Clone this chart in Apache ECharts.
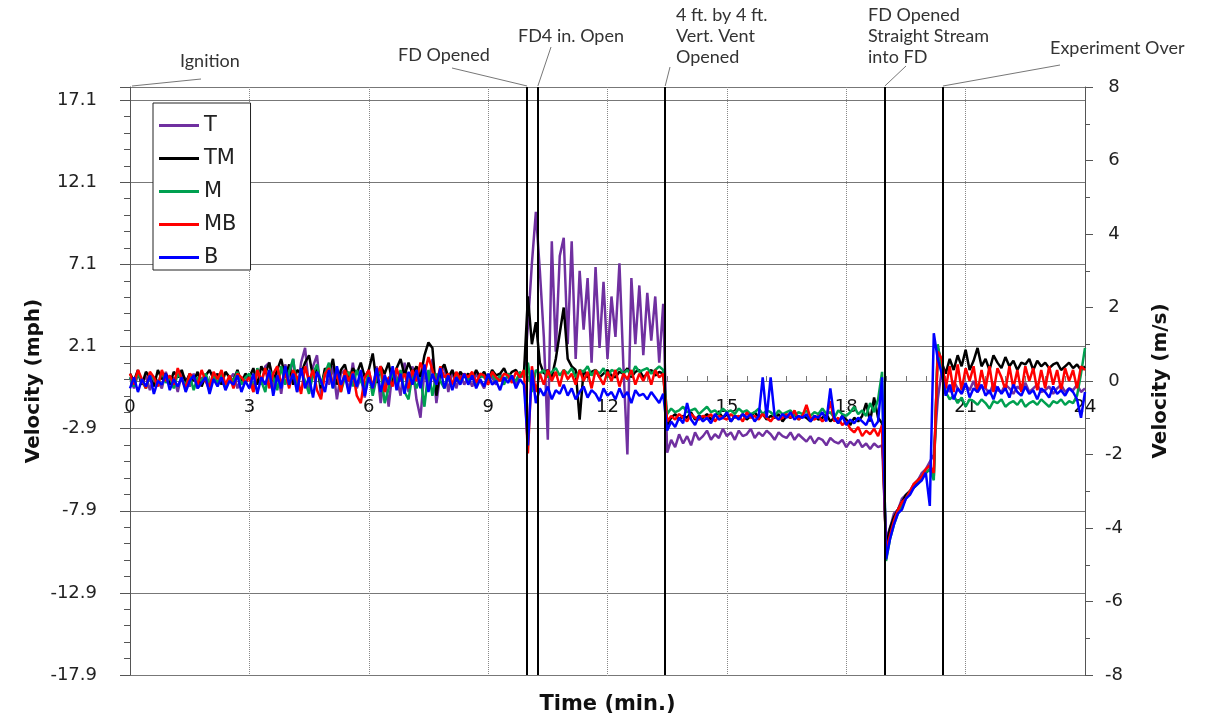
<!DOCTYPE html>
<html>
<head>
<meta charset="utf-8">
<script src="https://cdn.jsdelivr.net/npm/echarts@6/dist/echarts.min.js"></script>
<style>
html,body{margin:0;padding:0;background:#fff;}
#chart{width:1205px;height:721px;}
</style>
</head>
<body>
<div id="chart"></div>
<script>
// ---- data (velocities in m/s, one sample every 0.1 min from 0 to 24 min) ----
const sampleStep = 0.1;
const seriesNames = ['T', 'TM', 'M', 'MB', 'B'];
const seriesColors = ['#7030A0', '#000000', '#00A050', '#FF0000', '#0000FF'];

const T = [
  0.1,-0.2,0.2,-0.1,0.15,-0.25,0.1,0.0,-0.2,0.25,
  -0.1,0.1,-0.3,0.2,0.05,-0.15,0.2,-0.2,0.1,0.0,
  -0.25,0.15,-0.1,0.2,-0.15,0.05,0.2,-0.2,0.1,-0.05,
  0.2,-0.3,0.3,-0.1,0.4,0.5,-0.2,0.3,-0.35,0.45,
  0.1,0.6,-0.3,0.5,0.9,-0.2,0.4,0.7,-0.4,0.3,
  -0.1,0.4,-0.5,0.2,0.3,-0.3,0.5,-0.2,0.1,-0.45,
  0.3,-0.2,0.4,-0.6,0.2,-0.7,0.3,0.1,-0.4,0.5,
  -0.3,0.4,-0.5,-1.0,0.3,-0.2,0.6,-0.6,0.2,0.4,
  -0.3,0.3,-0.2,0.2,-0.1,
  0.1,-0.15,0.2,0.0,-0.2,0.15,0.1,-0.1,0.2,-0.05,0.15,0.05,-0.1,0.2,0.1,
  1.5,3.2,4.6,3.0,1.2,-1.6,3.8,0.8,3.4,3.9,
  1.0,3.8,0.6,3.0,1.4,2.8,0.5,3.1,0.9,2.7,
  0.6,2.3,1.2,3.2,0.4,-2.0,2.8,1.0,2.6,0.7,
  2.4,1.1,2.3,0.5,2.1,
  -1.95,-1.6,-1.8,-1.45,-1.7,-1.5,-1.75,-1.4,-1.6,-1.5,
  -1.35,-1.6,-1.45,-1.55,-1.3,-1.5,-1.4,-1.6,-1.35,-1.5,
  -1.45,-1.3,-1.55,-1.4,-1.5,-1.35,-1.45,-1.6,-1.4,-1.5,
  -1.55,-1.4,-1.6,-1.45,-1.55,-1.65,-1.5,-1.7,-1.55,-1.6,
  -1.75,-1.55,-1.65,-1.7,-1.6,-1.8,-1.65,-1.75,-1.6,-1.8,
  -1.7,-1.85,-1.7,-1.8,-1.75,
  -4.3,-4.0,-3.6,-3.5,-3.2,-3.1,-3.0,-2.8,-2.7,-2.5,-2.4,-2.2,-2.0,-0.5,
  0.3,-0.1,-0.3,0.0,-0.2,-0.35,-0.1,-0.25,0.0,-0.3,
  -0.15,-0.2,-0.35,-0.05,-0.25,-0.3,-0.1,-0.2,-0.35,-0.15,
  -0.25,-0.05,-0.3,-0.2,-0.1,-0.3,-0.25,-0.15,-0.35,-0.2,
  -0.1,-0.3,-0.2,-0.25,-0.1,-0.3,-0.2
];

const TM = [
  0.2,0.0,0.3,-0.1,0.25,0.1,-0.15,0.3,0.05,0.2,
  -0.1,0.25,0.1,0.3,-0.05,0.2,0.0,0.25,-0.15,0.15,
  0.3,0.05,0.2,-0.1,0.25,0.1,0.0,0.3,-0.05,0.2,
  0.1,0.35,-0.1,0.4,0.2,0.5,0.0,0.3,0.6,0.1,
  0.45,-0.1,0.3,0.2,0.5,0.7,0.1,0.4,-0.2,0.35,
  0.2,0.6,-0.1,0.3,0.45,0.0,0.35,0.2,0.5,0.1,
  0.3,0.75,-0.05,0.4,0.2,0.5,-0.1,0.35,0.6,0.15,
  0.5,0.2,0.4,0.1,0.7,1.05,0.9,-0.4,0.3,0.45,
  0.1,0.3,0.0,0.25,0.1,
  0.2,0.05,0.3,0.1,0.25,0.0,0.3,0.15,0.2,0.35,0.1,0.25,0.3,0.1,0.2,
  2.3,1.0,1.6,0.5,0.2,0.3,0.1,0.6,1.3,2.0,
  0.6,0.4,0.3,-1.05,0.3,0.1,0.25,0.3,0.1,0.2,
  0.3,0.15,0.1,0.25,0.2,0.35,0.1,0.25,0.3,0.1,
  0.2,0.3,0.15,0.25,0.2,
  -1.2,-1.0,-0.9,-1.05,-0.95,-1.0,-0.85,-1.05,-0.95,-1.0,
  -0.9,-1.05,-0.95,-0.85,-1.0,-0.9,-1.1,-0.95,-1.0,-0.9,
  -1.05,-0.95,-0.85,-1.0,-0.9,-1.05,-0.95,-1.0,-0.9,-1.1,
  -0.95,-1.0,-0.9,-1.05,-0.95,-1.0,-1.1,-0.95,-1.05,-1.0,
  -0.9,-1.1,-1.0,-1.15,-0.95,-1.05,-1.2,-1.0,-1.1,-0.95,
  -0.6,-1.1,-0.45,-1.0,-1.15,
  -4.5,-4.0,-3.7,-3.5,-3.3,-3.1,-3.0,-2.9,-2.7,-2.6,-2.5,-2.4,-2.6,0.9,
  0.5,0.2,0.6,0.3,0.7,0.4,0.85,0.3,0.55,0.9,
  0.4,0.6,0.3,0.7,0.5,0.35,0.65,0.4,0.55,0.3,
  0.5,0.45,0.6,0.3,0.55,0.4,0.5,0.35,0.45,0.5,
  0.3,0.4,0.5,0.35,0.45,0.3,0.4
];

const M = [
  0.1,-0.15,0.2,0.0,-0.2,0.15,0.05,-0.1,0.25,-0.05,
  0.1,-0.2,0.2,0.05,-0.1,0.15,-0.25,0.1,0.0,0.2,
  -0.1,0.15,-0.05,0.2,-0.15,0.1,0.0,0.25,-0.1,0.1,
  0.2,-0.2,0.35,0.0,-0.3,0.3,0.1,-0.25,0.4,-0.1,
  0.25,0.6,-0.2,0.3,0.0,-0.35,0.2,0.45,-0.1,0.2,
  0.5,-0.2,0.3,-0.3,0.1,0.25,-0.15,0.3,0.0,-0.2,
  0.2,-0.4,0.1,0.3,-0.6,-0.2,0.25,-0.1,0.3,-0.3,
  -0.5,0.2,-0.2,0.1,-0.7,0.3,-0.4,0.2,0.0,-0.2,
  0.2,-0.1,0.15,0.0,0.2,
  0.0,0.2,-0.1,0.15,0.1,-0.05,0.2,0.0,0.15,-0.1,0.2,0.1,0.0,0.25,0.1,
  0.5,-0.3,0.3,0.2,0.3,0.1,0.25,0.35,0.15,0.3,
  0.2,0.35,0.1,0.3,0.25,0.4,0.15,0.3,0.2,0.35,
  0.1,0.3,0.25,0.35,0.2,0.3,0.15,0.4,0.25,0.3,
  0.35,0.2,0.3,0.4,0.3,
  -0.9,-0.75,-0.85,-0.8,-0.7,-0.85,-0.8,-0.75,-0.9,-0.8,
  -0.7,-0.85,-0.8,-0.9,-0.75,-0.85,-0.8,-0.9,-0.75,-0.85,
  -0.8,-0.9,-0.85,-0.75,-0.9,-0.8,-0.85,-0.95,-0.8,-0.9,
  -0.85,-0.8,-0.95,-0.85,-0.9,-0.8,-0.95,-0.85,-0.9,-0.75,
  -0.9,-0.85,-1.0,-0.8,-0.9,-0.95,-0.85,-0.7,-0.9,-0.8,
  -0.95,-0.6,-0.85,-0.5,0.25,
  -4.9,-4.3,-3.9,-3.6,-3.4,-3.2,-3.0,-2.9,-2.8,-2.6,-2.5,-2.4,-2.7,1.0,
  0.3,-0.3,-0.5,-0.4,-0.6,-0.45,-0.7,-0.5,-0.55,-0.65,
  -0.5,-0.6,-0.75,-0.55,-0.6,-0.5,-0.7,-0.6,-0.55,-0.65,
  -0.5,-0.7,-0.6,-0.55,-0.65,-0.5,-0.6,-0.7,-0.55,-0.6,
  -0.5,-0.65,-0.55,-0.6,-0.4,0.2,0.9
];

const MB = [
  0.2,-0.1,0.3,0.05,-0.2,0.25,0.1,-0.15,0.3,0.0,
  0.15,-0.1,0.35,0.05,-0.2,0.2,0.1,-0.1,0.3,0.0,
  -0.15,0.25,0.05,0.3,-0.1,0.15,-0.2,0.2,0.1,-0.05,
  0.1,-0.3,0.3,0.0,0.35,-0.2,0.2,0.4,-0.1,0.25,
  -0.2,0.3,0.1,-0.35,0.4,0.0,0.3,-0.25,-0.5,0.2,
  0.35,-0.1,0.2,-0.3,0.3,0.0,0.25,-0.4,-0.6,0.1,
  0.3,-0.2,0.2,0.4,-0.3,0.1,-0.15,0.35,0.0,0.2,
  -0.2,0.3,0.0,0.5,0.2,0.65,0.3,-0.1,0.4,0.1,
  0.2,-0.1,0.25,0.05,0.2,
  0.1,0.25,-0.05,0.2,0.15,-0.1,0.25,0.1,0.0,0.2,0.15,-0.05,0.25,0.1,0.3,
  -1.97,0.4,-0.3,0.2,-0.1,0.3,0.0,0.25,-0.15,0.3,
  0.05,0.2,-0.1,0.3,0.0,0.25,-0.2,0.3,0.1,-0.1,
  0.25,0.0,0.3,-0.15,0.2,0.05,0.3,-0.1,0.2,0.0,
  0.25,-0.1,0.3,0.1,0.2,
  -1.1,-0.95,-1.05,-0.9,-1.0,-1.1,-0.9,-1.0,-1.05,-0.95,
  -1.0,-0.9,-1.1,-0.95,-1.0,-1.05,-0.9,-1.0,-0.95,-1.1,
  -0.85,-1.0,-0.95,-1.05,-0.9,-1.0,-1.1,-0.95,-1.05,-1.0,
  -0.9,-1.0,-0.8,-1.05,-0.95,-0.65,-1.0,-1.05,-0.95,-1.1,
  -1.0,-0.55,-1.1,-1.0,-1.2,-1.1,-1.3,-1.4,-1.25,-1.5,
  -1.35,-1.45,-1.3,-1.5,-1.2,
  -4.6,-4.2,-3.8,-3.5,-3.3,-3.2,-3.0,-2.8,-2.7,-2.6,-2.4,-2.3,-2.5,0.8,
  0.6,-0.2,0.4,-0.3,0.45,-0.25,0.35,0.0,0.4,-0.3,
  0.3,-0.2,0.4,-0.3,0.35,0.1,-0.25,0.4,-0.2,0.3,
  -0.3,0.4,0.0,0.35,-0.25,0.3,-0.2,0.4,-0.1,0.3,
  -0.25,0.35,0.0,0.3,-0.2,0.4,0.3
];

const B = [
  -0.2,0.1,-0.3,0.05,-0.15,0.15,-0.35,0.0,-0.1,0.2,
  -0.25,0.05,-0.15,0.1,-0.3,0.0,0.15,-0.2,-0.05,0.1,
  -0.35,0.05,-0.15,0.1,-0.25,0.0,-0.1,0.15,-0.3,0.0,
  -0.2,0.2,-0.35,0.1,-0.1,0.3,-0.4,0.15,-0.2,0.4,
  -0.1,0.2,-0.3,0.35,-0.2,0.1,-0.45,0.25,0.0,-0.3,
  0.3,-0.2,0.4,-0.1,0.15,-0.35,0.2,-0.15,0.3,-0.4,
  0.1,-0.2,0.35,-0.3,0.15,-0.1,0.4,-0.25,0.2,-0.35,
  0.25,-0.1,0.3,-0.2,0.45,-0.3,0.2,-0.1,0.35,-0.2,
  0.15,-0.25,0.1,-0.1,0.2,
  -0.1,0.15,-0.2,0.05,-0.15,0.2,-0.1,0.0,-0.25,0.1,-0.05,0.15,-0.2,0.05,-0.1,
  -1.75,0.3,-0.6,-0.2,-0.4,-0.15,-0.5,-0.25,-0.35,-0.1,
  -0.4,-0.2,-0.5,-0.3,-0.15,-0.45,-0.25,-0.35,-0.55,-0.2,
  -0.4,-0.3,-0.5,-0.2,-0.45,-0.3,-0.6,-0.25,-0.4,-0.35,
  -0.5,-0.3,-0.45,-0.6,-0.35,
  -1.35,-1.1,-1.25,-1.0,-1.15,-0.6,-1.05,-1.2,-0.95,-1.1,
  -1.0,-1.15,-0.9,-1.05,-1.0,-0.85,-1.1,-0.95,-1.05,-0.9,
  -1.0,-0.9,-1.1,-0.95,0.1,-1.0,0.1,-0.95,-1.05,-0.9,
  -1.0,-0.85,-1.05,-0.95,-1.0,-0.9,-1.1,-0.95,-1.0,-0.85,
  -1.1,-0.2,-1.0,-1.15,-0.95,-1.2,-1.05,-1.15,-1.0,-1.1,
  -1.2,-0.95,-1.25,-1.1,0.1,
  -4.85,-4.3,-3.9,-3.6,-3.5,-3.2,-3.1,-2.9,-2.8,-2.7,-2.5,-3.4,1.3,0.6,
  0.2,-0.4,-0.1,-0.5,-0.2,-0.35,-0.05,-0.45,-0.2,-0.3,
  -0.1,-0.4,-0.25,-0.5,-0.15,-0.35,-0.2,-0.45,-0.1,-0.3,
  -0.4,-0.15,-0.35,-0.25,-0.5,-0.2,-0.3,-0.45,-0.15,-0.35,
  -0.25,-0.4,-0.2,-0.3,-0.5,-1.0,-0.3
];

const seriesValues = [T, TM, M, MB, B];

// events (min)
const eventTimes = [9.98, 10.25, 13.45, 18.97, 20.43];
// left axis tick labels (mph), right axis in m/s
const mphTickLabels = ['-17.9', '-12.9', '-7.9', '-2.9', '2.1', '7.1', '12.1', '17.1'];

// annotation texts, with the time each one points to
const annotationTexts = ['Ignition', 'FD Opened', 'FD4 in. Open', '4 ft. by 4 ft.\nVert. Vent\nOpened', 'FD Opened\nStraight Stream\ninto FD', 'Experiment Over'];
const annotationTimes = [0, 9.98, 10.25, 13.45, 18.97, 20.43];

// ---- chart ----
const chart = echarts.init(document.getElementById('chart'), null, {renderer: 'canvas'});
const baseFont = '"DejaVu Sans", "Liberation Sans", Arial, sans-serif';
const gridTop = 87, gridBottom = 46, chartH = 721;
const gridH = chartH - gridTop - gridBottom;

function toPairs(vals) {
  return vals.map((v, i) => [Math.round(i * sampleStep * 10) / 10, v]);
}

const series = seriesNames.map((name, k) => ({
  name: name,
  type: 'line',
  xAxisIndex: 0,
  yAxisIndex: 1,
  data: toPairs(seriesValues[k]),
  showSymbol: false,
  symbol: 'none',
  color: seriesColors[k],
  lineStyle: {width: 2.5, color: seriesColors[k]},
  emphasis: {disabled: true},
  z: 2 + k
}));

series[series.length - 1].markLine = {
  silent: true,
  symbol: ['none', 'none'],
  label: {show: false},
  lineStyle: {color: '#000', width: 2, type: 'solid'},
  data: eventTimes.map(t => ({xAxis: t})),
  z: 20
};

const option = {
  animation: false,
  backgroundColor: '#fff',
  grid: {left: 130, right: 120, top: gridTop, bottom: gridBottom, containLabel: false, outerBoundsMode: 'none'},
  legend: {
    data: seriesNames,
    orient: 'vertical',
    left: 153, top: 103,
    backgroundColor: '#fff',
    borderColor: '#222', borderWidth: 1,
    padding: [12, 14, 2, 6],
    itemGap: 12,
    itemWidth: 40, itemHeight: 3,
    icon: 'rect',
    textStyle: {fontSize: 21, color: '#222', fontFamily: baseFont},
    selectedMode: false
  },
  xAxis: [
    {
      type: 'value', min: 0, max: 24, interval: 3, position: 'bottom',
      axisLine: {show: false}, axisTick: {show: false}, axisLabel: {show: false},
      splitLine: {show: true, lineStyle: {type: 'dotted', color: '#888', width: 1}},
      name: 'Time (min.)', nameLocation: 'middle', nameGap: 19, nameMoveOverlap: false,
      nameTextStyle: {fontSize: 21, fontWeight: 'bold', color: '#111', fontFamily: baseFont}
    },
    {
      type: 'value', min: 0, max: 24, interval: 3, position: 'bottom',
      offset: -gridH / 2,
      axisLine: {show: true, onZero: false, lineStyle: {color: '#777', width: 1}},
      axisTick: {show: true, inside: true, length: 5, lineStyle: {color: '#777'}},
      minorTick: {show: true, splitNumber: 6, length: 5, lineStyle: {color: '#777'}},
      axisLabel: {show: true, fontSize: 18, color: '#111', margin: 17, fontFamily: baseFont},
      splitLine: {show: false}
    }
  ],
  yAxis: [
    {
      type: 'value', min: 0, max: 35.8, interval: 5, position: 'left',
      axisLine: {show: true, lineStyle: {color: '#555'}},
      axisTick: {show: true, length: 10, lineStyle: {color: '#555'}},
      minorTick: {show: true, splitNumber: 5, length: 6, lineStyle: {color: '#555'}},
      splitLine: {show: true, lineStyle: {color: '#777', width: 1}},
      axisLabel: {
        fontSize: 18, color: '#222', margin: 33, fontFamily: baseFont, showMaxLabel: false,
        formatter: v => { const idx = Math.round(v / 5); return (Math.abs(v - idx * 5) < 1e-6 && mphTickLabels[idx]) ? mphTickLabels[idx] : ''; }
      },
      name: 'Velocity (mph)', nameLocation: 'middle', nameGap: 86, nameRotate: 90, nameMoveOverlap: false,
      nameTextStyle: {fontSize: 20, fontWeight: 'bold', color: '#111', fontFamily: baseFont}
    },
    {
      type: 'value', min: -8, max: 8, interval: 2, position: 'right',
      axisLine: {show: true, onZero: false, lineStyle: {color: '#555'}},
      axisTick: {show: true, length: 8, lineStyle: {color: '#555'}},
      minorTick: {show: true, splitNumber: 2, length: 5, lineStyle: {color: '#555'}},
      splitLine: {show: false},
      axisLabel: {fontSize: 18, color: '#222', margin: 29, align: 'center', fontFamily: baseFont},
      name: 'Velocity (m/s)', nameLocation: 'middle', nameGap: 66, nameRotate: 90, nameMoveOverlap: false,
      nameTextStyle: {fontSize: 20, fontWeight: 'bold', color: '#111', fontFamily: baseFont}
    }
  ],
  series: series
};

chart.setOption(option);

// annotation labels (layout positions) and leader lines to the tops of the event lines
const annLayout = [
  {x: 180, y: 51, from: [201, 79]},
  {x: 398, y: 45, from: [452, 68]},
  {x: 518, y: 26, from: [551, 47]},
  {x: 676, y: 5,  from: [670, 67]},
  {x: 868, y: 5,  from: [906, 66]},
  {x: 1050, y: 38, from: [1060, 65]}
];
const topY = 86;
const graphics = [];
annotationTexts.forEach((txt, i) => {
  const L = annLayout[i];
  graphics.push({
    type: 'text', left: L.x, top: L.y, silent: true,
    style: {text: txt, font: '18px Lato, "Open Sans", sans-serif', fill: '#333', lineHeight: 21}
  });
  const px = chart.convertToPixel({xAxisIndex: 0}, annotationTimes[i]);
  graphics.push({
    type: 'line', silent: true,
    shape: {x1: L.from[0], y1: L.from[1], x2: px + (i === 0 ? 2 : 0), y2: topY},
    style: {stroke: '#777', lineWidth: 1}
  });
});
const bad = seriesValues.map((a, k) => a.length === 241 ? '' : seriesNames[k] + ':' + a.length).filter(s => s);
if (bad.length) {
  graphics.push({type: 'text', left: 300, top: 600, style: {text: 'LEN ' + bad.join(' '), fill: '#f0f', font: '20px sans-serif'}});
}
chart.setOption({graphic: graphics});
</script>
</body>
</html>
